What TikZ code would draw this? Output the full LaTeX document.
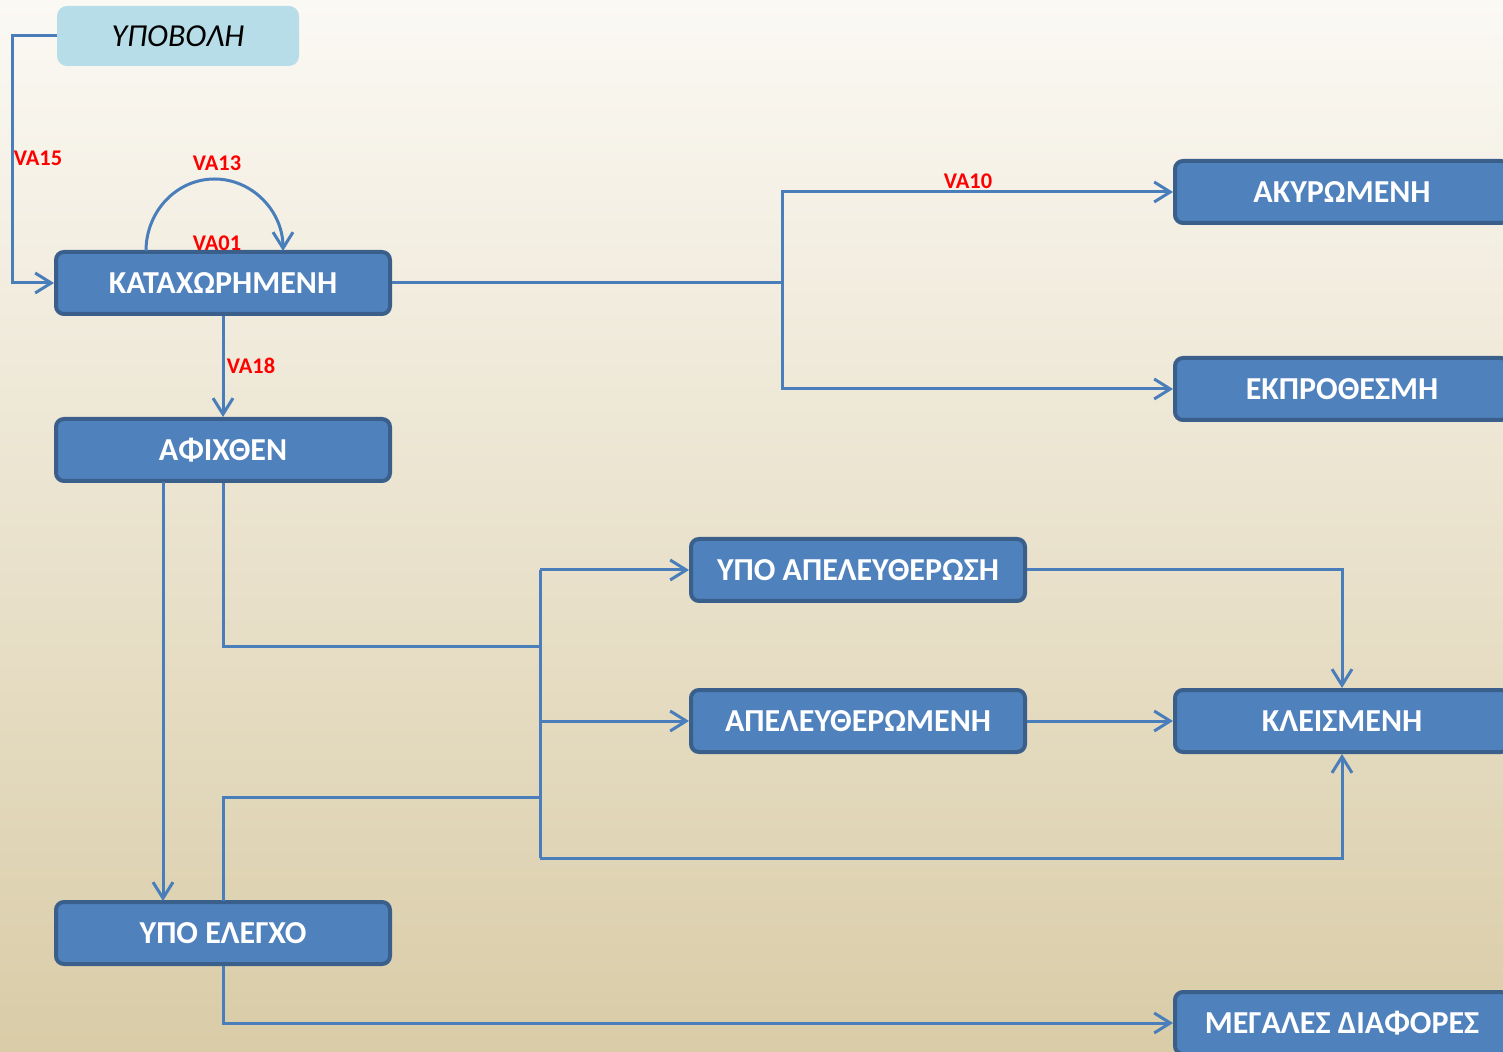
\documentclass[tikz,border=0pt]{standalone}
\usepackage{fontspec}
\setmainfont{Carlito}
\usetikzlibrary{arrows.meta}
\definecolor{boxfill}{HTML}{4F81BD}
\definecolor{boxedge}{HTML}{3A5F8B}
\definecolor{conncol}{HTML}{4A7EBB}
\definecolor{subfill}{HTML}{B7DEE8}
\definecolor{bgtop}{HTML}{FBF9F4}
\definecolor{bgmid}{HTML}{F1EBD9}
\definecolor{bgbot}{HTML}{D9CCA7}
\definecolor{labred}{HTML}{FF0000}
\begin{document}
\begin{tikzpicture}[x=0.5pt,y=-0.5pt,
  state/.style={draw=boxedge, line width=2pt, fill=boxfill, rounded corners=4pt,
    minimum width=167pt, minimum height=31pt, inner sep=0pt, text=white,
    font=\bfseries\fontsize{16}{19}\selectfont},
  conn/.style={draw=conncol, line width=1.5pt},
  arr/.style={conn, -{Straight Barb[length=8pt,width=10pt]}},
  lab/.style={text=labred, font=\bfseries\fontsize{11.2}{13}\selectfont, inner sep=0pt}]
\useasboundingbox (0,0) rectangle (1503,1052);
\clip (0,0) rectangle (1503,1052);
\shade[top color=bgtop, middle color=bgmid, bottom color=bgbot] (0,0) rectangle (1503,1052);

% nodes
\node[fill=subfill, rounded corners=5pt, minimum width=121pt, minimum height=30pt, inner sep=0pt,
  font=\itshape\fontsize{16}{19}\selectfont] (sub) at (178,36) {ΥΠΟΒΟΛΗ};
\node[state] (kat) at (223,283) {ΚΑΤΑΧΩΡΗΜΕΝΗ};
\node[state] (afi) at (223,450) {ΑΦΙΧΘΕΝ};
\node[state] (ele) at (223,933) {ΥΠΟ ΕΛΕΓΧΟ};
\node[state] (aky) at (1342,192) {ΑΚΥΡΩΜΕΝΗ};
\node[state] (ekp) at (1342,389) {ΕΚΠΡΟΘΕΣΜΗ};
\node[state] (ypa) at (858,570) {ΥΠΟ ΑΠΕΛΕΥΘΕΡΩΣΗ};
\node[state] (ape) at (858,721) {ΑΠΕΛΕΥΘΕΡΩΜΕΝΗ};
\node[state] (kle) at (1342,721) {ΚΛΕΙΣΜΕΝΗ};
\node[state] (meg) at (1342,1023) {ΜΕΓΑΛΕΣ ΔΙΑΦΟΡΕΣ};

% helper coordinates
\coordinate (c15) at (12,36);
\coordinate (c15b) at (12,283);
\coordinate (l1) at (146,251);
\coordinate (br) at (782,283);
\coordinate (br1) at (782,192);
\coordinate (br2) at (782,389);
\coordinate (a2) at (223,646);
\coordinate (bus1) at (540,646);
\coordinate (busT) at (540,570);
\coordinate (busM) at (540,721);
\coordinate (busB) at (540,858);
\coordinate (busE) at (540,797);
\coordinate (kc) at (1342,858);
\coordinate (e1) at (223,901);
\coordinate (e2) at (223,797);
\coordinate (f1) at (163,482);
\coordinate (f2) at (163,901);
\coordinate (yc) at (1342,570);
\coordinate (g1) at (223,1023);

% connectors
\draw[arr] (sub.west) -- (c15) -- (c15b) -- (kat.west);
\draw[arr] (l1) arc[start angle=180, end angle=360, x radius=68.5, y radius=72];
\draw[conn] (kat.east) -- (br);
\draw[arr] (br) -- (br1) -- (aky.west);
\draw[arr] (br) -- (br2) -- (ekp.west);
\draw[arr] (kat.south) -- (afi.north);
\draw[arr] (f1) -- (f2);
\draw[conn] (afi.south) -- (a2) -- (bus1);
\draw[conn] (busT) -- (busB);
\draw[arr] (busT) -- (ypa.west);
\draw[arr] (busM) -- (ape.west);
\draw[arr] (busB) -- (kc) -- (kle.south);
\draw[conn] (e1) -- (e2) -- (busE);
\draw[arr] (ypa.east) -- (yc) -- (kle.north);
\draw[arr] (ape.east) -- (kle.west);
\draw[arr] (ele.south) -- (g1) -- (meg.west);

% labels
\node[lab] (v15) at (38,158) {VA15};
\node[lab] (v13) at (217,163) {VA13};
\node[lab] (v01) at (217,243) {VA01};
\node[lab] (v10) at (968,181) {VA10};
\node[lab] (v18) at (251,366) {VA18};
\end{tikzpicture}
\end{document}
